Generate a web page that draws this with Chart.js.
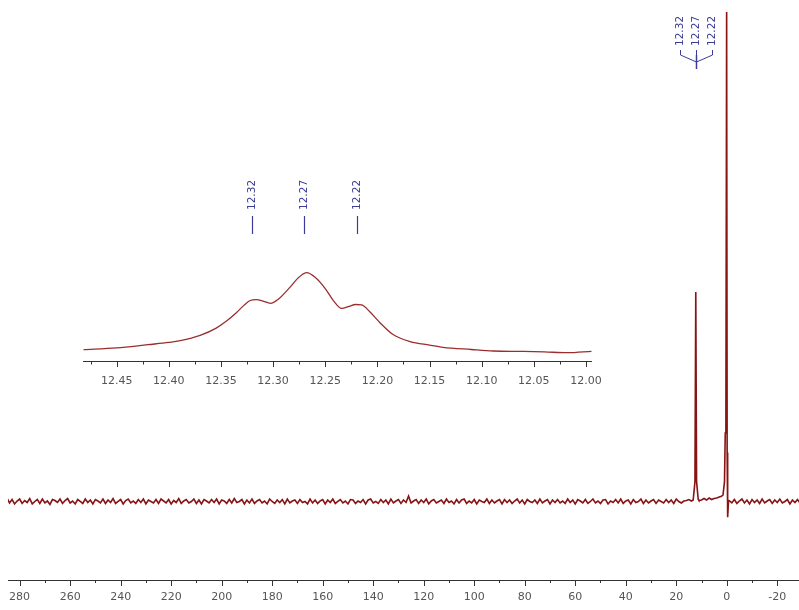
<!DOCTYPE html>
<html>
<head>
<meta charset="utf-8">
<script src="https://cdn.jsdelivr.net/npm/chart.js@4"></script>
<style>
  html, body { margin: 0; padding: 0; background: #fff; }
  #wrap { position: relative; width: 799px; height: 610px; }
  canvas { position: absolute; left: 0; top: 0; }
  #inset { pointer-events: none; }
</style>
</head>
<body>
<div id="wrap">
  <canvas id="main" width="799" height="610"></canvas>
  <canvas id="inset" width="799" height="610"></canvas>
</div>
<script>
// Main spectrum: baseline noise, one value per ppm starting at 285 ppm going down
const noiseStartPpm = 285;
const noise = [
  0.7,-0.3,0.4,-0.5,0.1,0.5,-0.4,0.2,-0.2,0.6,-0.5,0.0,0.4,-0.4,0.5,-0.3,0.1,-0.6,0.4,0.2,
  -0.2,0.5,-0.4,0.2,0.6,-0.3,0.1,-0.5,0.4,0.0,-0.4,0.5,-0.2,0.3,-0.5,0.4,0.1,-0.3,0.5,-0.4,
  0.3,-0.2,0.6,-0.4,0.0,0.4,-0.5,0.2,0.5,-0.3,0.1,-0.4,0.4,-0.2,0.5,-0.5,0.3,0.0,-0.3,0.4,
  -0.4,0.5,0.1,-0.3,0.4,-0.5,0.2,-0.2,0.6,-0.4,0.1,0.4,-0.3,0.0,0.5,-0.4,0.3,-0.5,0.4,0.1,
  -0.3,0.4,-0.2,0.5,-0.5,0.3,0.1,-0.4,0.4,-0.3,0.6,-0.2,0.0,0.4,-0.5,0.3,-0.3,0.5,-0.4,0.1,
  0.4,-0.3,0.1,-0.5,0.5,0.0,-0.4,0.3,-0.2,0.4,-0.5,0.5,-0.3,0.1,0.3,-0.4,0.4,-0.2,0.0,-0.5,
  0.5,-0.3,0.3,-0.4,0.1,0.4,-0.5,0.3,-0.2,0.5,-0.4,0.0,0.4,-0.3,0.1,-0.5,0.4,0.3,-0.4,0.1,
  -0.2,0.4,-0.5,0.3,0.5,-0.3,0.0,-0.4,0.4,-0.2,0.3,-0.5,0.5,-0.3,0.1,0.4,-0.4,0.3,-0.2,1.1,
  -0.3,0.1,0.4,-0.4,0.3,-0.2,0.5,-0.5,0.1,0.4,-0.3,0.0,0.3,-0.4,0.5,-0.2,0.1,-0.5,0.4,-0.3,
  0.3,0.5,-0.4,0.1,-0.3,0.4,-0.5,0.3,0.0,-0.2,0.5,-0.4,0.3,-0.3,0.1,0.4,-0.5,0.4,-0.2,0.3,
  -0.4,0.1,0.5,-0.3,0.3,-0.5,0.4,0.0,-0.2,0.3,-0.4,0.5,-0.3,0.1,0.4,-0.5,0.3,-0.2,0.4,-0.3,
  0.1,-0.4,0.5,-0.2,0.3,-0.5,0.4,0.1,-0.3,0.4,-0.4,0.0,0.5,-0.3,0.1,-0.4,0.3,0.4,-0.5,0.1,
  -0.2,0.4,-0.3,0.5,-0.4,0.1,0.3,-0.5,0.4,-0.2,0.0,0.5,-0.4,0.3,-0.3,0.1,0.4,-0.4,0.3,0.0,
  -0.3,0.4,-0.2,0.3,-0.4,0.5,0.0,-0.3,0.1,0.2,0.4,0.1,0.4,0.5,0.2,0.3,0.6,0.3,0.7,0.4,
  0.6,0.7,0.9,1.0,0.0,0.0,0.0,-0.3,0.4,-0.4,0.1,0.5,-0.3,0.3,-0.5,0.4,-0.2,0.3,-0.4,0.5,
  -0.3,0.1,0.4,-0.4,0.3,-0.2,0.5,-0.3,0.0,0.4,-0.5,0.3,-0.2,0.4,-0.3
];

// signal near 12.27 ppm and the reference peak at 0 ppm
const peakPpm = [13.3, 12.6, 12.27, 11.95, 11.3];
const peakInt = [0.3, 4, 42.8, 4, 0.4];
const tmsPpm = [2.3, 1.5, 0.9, 0.6, 0.35, 0.05, -0.15, -0.35, -0.7, -1.1];
const tmsInt = [1.0, 1.3, 4, 14, 15, 100, 10, -3.2, 0.2, 0.1];

const mainMajorTicks = [280, 260, 240, 220, 200, 180, 160, 140, 120, 100, 80, 60, 40, 20, 0, -20];
const mainMinorTicks = [270, 250, 230, 210, 190, 170, 150, 130, 110, 90, 70, 50, 30, 10, -10];

// multiplet labels
const peakLabels = [12.32, 12.27, 12.22];
const multipletCenter = 12.27;

// Inset: zoom of 12.00 - 12.48 ppm
const insetPpm = [12.482, 12.45, 12.42, 12.40, 12.389, 12.37, 12.355, 12.345, 12.335, 12.328, 12.322, 12.316, 12.309, 12.3025,
  12.295, 12.285, 12.275, 12.2678, 12.26, 12.25, 12.242, 12.2343, 12.227, 12.221, 12.215, 12.2075, 12.1975, 12.185, 12.1686, 12.15,
  12.137, 12.11, 12.089, 12.06, 12.04, 12.018, 11.9945];
const insetInt = [12.9, 14.8, 18.5, 21, 23, 29, 37, 45, 55, 63, 68.5, 69.5, 67.5, 65.3,
  70, 82, 95, 100, 95, 82, 68, 59.5, 62, 64, 63.5, 56, 43.4, 30, 22, 18,
  15.5, 13, 11.3, 10.8, 10.3, 9.4, 11];
const insetMajorTicks = [12.00, 12.05, 12.10, 12.15, 12.20, 12.25, 12.30, 12.35, 12.40, 12.45];
const insetMinorTicks = [12.025, 12.075, 12.125, 12.175, 12.225, 12.275, 12.325, 12.375, 12.425, 12.475];

const lineColor = "#861414";
const labelColor = "#3c3c96";
const axisColor = "#333";
const tickFont = { family: "DejaVu Sans", size: 11 };

// build main line points
function buildMainPoints() {
  const pts = [];
  noise.forEach((v, i) => {
    const ppm = noiseStartPpm - i;
    if (ppm > 11.2 && ppm < 13.6) return;
    if (ppm > -1.3 && ppm < 2.5) return;
    pts.push({ x: ppm, y: v });
  });
  peakPpm.forEach((p, i) => pts.push({ x: p, y: peakInt[i] }));
  tmsPpm.forEach((p, i) => pts.push({ x: p, y: tmsInt[i] }));
  pts.sort((a, b) => b.x - a.x);
  return pts;
}

// tick marks under an axis line (major longer than minor)
function tickMarks(major, minor, majorLen, minorLen) {
  return {
    id: "tickMarks",
    afterDraw(chart) {
      const { ctx, scales: { x }, chartArea } = chart;
      const y0 = chartArea.bottom;
      ctx.save();
      ctx.strokeStyle = axisColor;
      ctx.lineWidth = 1;
      ctx.beginPath();
      major.forEach(v => {
        const px = Math.round(x.getPixelForValue(v)) + 0.5;
        ctx.moveTo(px, y0); ctx.lineTo(px, y0 + majorLen);
      });
      minor.forEach(v => {
        const px = Math.round(x.getPixelForValue(v)) + 0.5;
        ctx.moveTo(px, y0); ctx.lineTo(px, y0 + minorLen);
      });
      ctx.stroke();
      ctx.restore();
    }
  };
}

function drawVerticalText(ctx, text, x, yBottom) {
  ctx.save();
  ctx.translate(x, yBottom);
  ctx.rotate(-Math.PI / 2);
  ctx.textAlign = "left";
  ctx.textBaseline = "middle";
  ctx.fillText(text, 0, 0);
  ctx.restore();
}

const multipletPlugin = {
  id: "multiplet",
  afterDraw(chart) {
    const { ctx, scales: { x } } = chart;
    const cx = Math.round(x.getPixelForValue(multipletCenter)) + 0.5;
    ctx.save();
    ctx.strokeStyle = labelColor;
    ctx.fillStyle = labelColor;
    ctx.lineWidth = 1;
    ctx.font = '10.5px "DejaVu Sans"';
    peakLabels.forEach((v, i) => {
      const lx = cx + (i - 1) * 16;
      drawVerticalText(ctx, v.toFixed(2), lx, 46);
      ctx.beginPath();
      ctx.moveTo(lx, 50);
      ctx.lineTo(lx, 55);
      ctx.lineTo(cx, 62);
      ctx.stroke();
    });
    ctx.lineWidth = 1.5;
    ctx.beginPath();
    ctx.moveTo(cx, 55);
    ctx.lineTo(cx, 69);
    ctx.stroke();
    ctx.restore();
  }
};

const insetLabelPlugin = {
  id: "insetLabels",
  afterDraw(chart) {
    const { ctx, scales: { x } } = chart;
    ctx.save();
    ctx.strokeStyle = labelColor;
    ctx.fillStyle = labelColor;
    ctx.font = '10.5px "DejaVu Sans"';
    ctx.lineWidth = 1.2;
    peakLabels.forEach(v => {
      const px = Math.round(x.getPixelForValue(v)) + 0.5;
      drawVerticalText(ctx, v.toFixed(2), px, 210);
      ctx.beginPath();
      ctx.moveTo(px, 216);
      ctx.lineTo(px, 234);
      ctx.stroke();
    });
    ctx.restore();
  }
};

Chart.defaults.font.family = "DejaVu Sans";

new Chart(document.getElementById("main"), {
  type: "line",
  data: {
    datasets: [{
      data: buildMainPoints(),
      borderColor: lineColor,
      borderWidth: 1.6,
      pointRadius: 0,
      tension: 0
    }]
  },
  options: {
    responsive: false,
    animation: false,
    devicePixelRatio: 1,
    layout: { padding: { left: 8, right: 0, top: 0, bottom: 0 } },
    plugins: { legend: { display: false }, tooltip: { enabled: false } },
    scales: {
      x: {
        type: "linear",
        reverse: true,
        min: -28.6,
        max: 284.6,
        afterBuildTicks: s => { s.ticks = mainMajorTicks.slice().reverse().map(v => ({ value: v })); },
        afterFit: s => { s.height = 30; },
        grid: { display: false, drawTicks: false },
        border: { display: true, color: axisColor, width: 1 },
        ticks: { padding: 11, color: "#555", font: tickFont, maxRotation: 0, autoSkip: false,
          callback: v => String(v) }
      },
      y: { display: false, min: -16.04, max: 102.45 }
    }
  },
  plugins: [tickMarks(mainMajorTicks, mainMinorTicks, 6, 3), multipletPlugin]
});

new Chart(document.getElementById("inset"), {
  type: "line",
  data: {
    datasets: [{
      data: insetPpm.map((p, i) => ({ x: p, y: insetInt[i] })),
      borderColor: "#9a2e2e",
      borderWidth: 1.3,
      pointRadius: 0,
      cubicInterpolationMode: "monotone"
    }]
  },
  options: {
    responsive: false,
    animation: false,
    devicePixelRatio: 1,
    layout: { padding: { left: 83.3, right: 207.3, top: 250, bottom: 219 } },
    plugins: { legend: { display: false }, tooltip: { enabled: false } },
    scales: {
      x: {
        type: "linear",
        reverse: true,
        min: 11.9945,
        max: 12.482,
        afterBuildTicks: s => { s.ticks = insetMajorTicks.map(v => ({ value: v })); },
        afterFit: s => { s.height = 30; },
        grid: { display: false, drawTicks: false },
        border: { display: true, color: axisColor, width: 1 },
        ticks: { padding: 14, color: "#555", font: tickFont, maxRotation: 0, autoSkip: false,
          callback: v => Number(v).toFixed(2) }
      },
      y: { display: false, min: 0, max: 125.7 }
    }
  },
  plugins: [tickMarks(insetMajorTicks, insetMinorTicks, 6, 3.5), insetLabelPlugin]
});
</script>
</body>
</html>
